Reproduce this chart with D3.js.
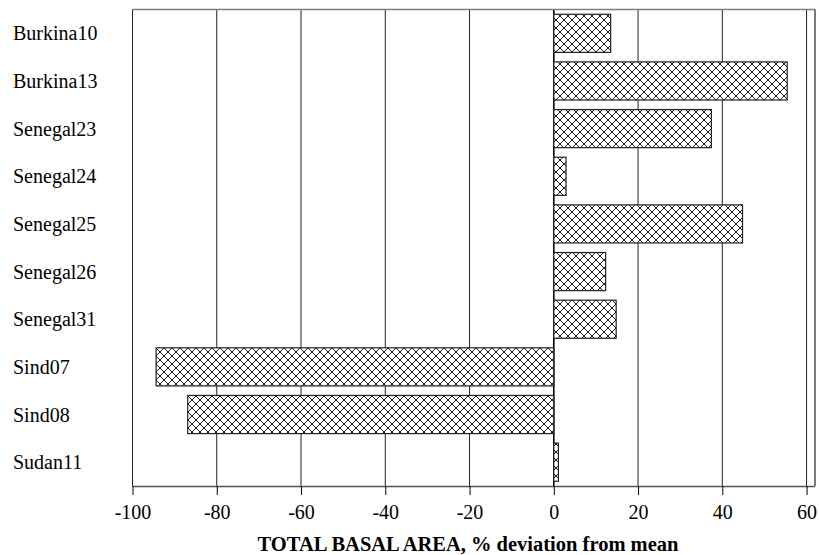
<!DOCTYPE html>
<html>
<head>
<meta charset="utf-8">
<script src="https://cdn.jsdelivr.net/npm/d3@7"></script>
<style>
  body { margin: 0; background: #fff; }
  text { font-family: "Liberation Serif", "Times New Roman", serif; fill: #000; }
</style>
</head>
<body>
<svg width="819" height="555"></svg>
<script>
const sites = ['Burkina10', 'Burkina13', 'Senegal23', 'Senegal24', 'Senegal25',
  'Senegal26', 'Senegal31', 'Sind07', 'Sind08', 'Sudan11'];
const deviation = [13.5, 55.4, 37.4, 2.9, 44.8, 12.3, 14.8, -94.4, -86.9, 1.1];
const xTicks = [-100, -80, -60, -40, -20, 0, 20, 40, 60];
const xLabel = 'TOTAL BASAL AREA, % deviation from mean';

const data = sites.map((s, i) => ({ site: s, value: deviation[i] }));

const svg = d3.select('svg');

const plotL = 132.5, plotR = 815, plotT = 9.5, plotB = 486;

const xScale = d3.scaleLinear().domain([-100, 62]).range([plotL, plotR]);
const yScale = d3.scaleBand()
  .domain(sites)
  .range([plotT, plotB])
  .paddingInner(0.2)
  .paddingOuter(0.1);

// crosshatch fill
const pat = svg.append('defs').append('pattern')
  .attr('id', 'hatch')
  .attr('patternUnits', 'userSpaceOnUse')
  .attr('width', 8).attr('height', 8);
pat.append('rect').attr('width', 8).attr('height', 8).attr('fill', '#fff');
pat.append('path')
  .attr('d', 'M0,0L8,8M0,8L8,0M-1,1L1,-1M7,9L9,7M-1,7L1,9M7,-1L9,1')
  .attr('stroke', '#000').attr('stroke-width', 0.9);

// gridlines
svg.append('g').selectAll('line')
  .data(xTicks)
  .enter()
  .append('line')
  .attr('x1', (d) => xScale(d)).attr('x2', (d) => xScale(d))
  .attr('y1', plotT).attr('y2', plotB)
  .attr('stroke', (d) => (d === 0 ? '#000' : '#222'))
  .attr('stroke-width', (d) => (d === 0 ? 1.6 : 1));

// frame
svg.append('line').attr('x1', plotL).attr('x2', plotR).attr('y1', plotT).attr('y2', plotT)
  .attr('stroke', '#808080').attr('stroke-width', 1.5);
svg.append('line').attr('x1', plotR).attr('x2', plotR).attr('y1', plotT).attr('y2', plotB)
  .attr('stroke', '#222').attr('stroke-width', 1.2);

// bars
svg.append('g').selectAll('rect')
  .data(data)
  .enter()
  .append('rect')
  .attr('x', (d) => xScale(Math.min(0, d.value)))
  .attr('y', (d) => yScale(d.site))
  .attr('width', (d) => Math.abs(xScale(d.value) - xScale(0)))
  .attr('height', yScale.bandwidth())
  .attr('fill', 'url(#hatch)')
  .attr('stroke', '#222')
  .attr('stroke-width', 1.2);

// x axis
const xAxis = svg.append('g')
  .attr('transform', `translate(0,${plotB})`)
  .call(d3.axisBottom(xScale).tickValues(xTicks).tickFormat((d) => String(d))
    .tickSize(9).tickPadding(10).tickSizeOuter(0));
xAxis.select('.domain').attr('stroke', '#555').attr('stroke-width', 1.5)
  .attr('d', `M${plotL},0.5H${plotR}`);
xAxis.selectAll('.tick line').attr('stroke', '#000');
xAxis.selectAll('.tick text')
  .style('font-family', '"Liberation Serif", serif')
  .style('font-size', '20px')
  .attr('fill', '#000');

// category labels
svg.append('g').selectAll('text')
  .data(sites)
  .enter()
  .append('text')
  .attr('x', 13)
  .attr('y', (d) => yScale(d) + yScale.bandwidth() / 2 + 7)
  .style('font-size', '20px')
  .text((d) => d);

svg.append('text')
  .attr('x', 468)
  .attr('y', 551)
  .attr('text-anchor', 'middle')
  .style('font-size', '20.5px')
  .style('font-weight', 'bold')
  .text(xLabel);
</script>
</body>
</html>
